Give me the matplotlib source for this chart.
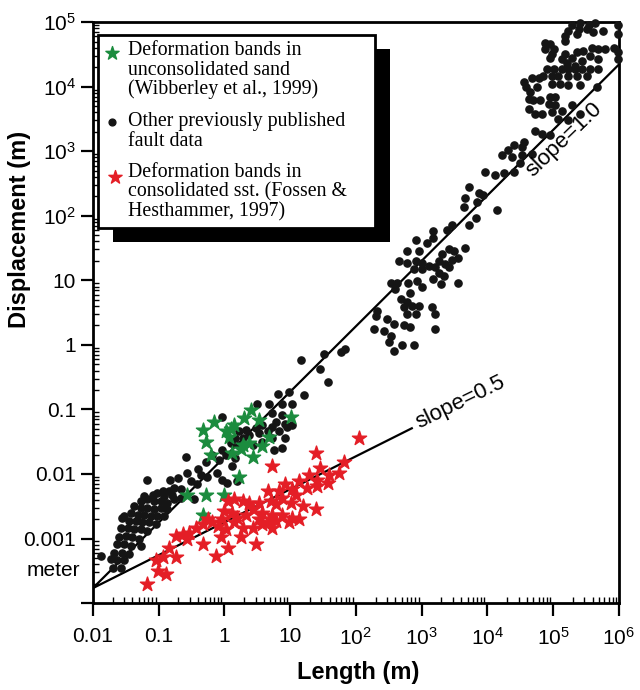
import numpy as np
import matplotlib.pyplot as plt
from matplotlib.patches import Rectangle
from matplotlib.ticker import LogLocator, NullFormatter, FixedLocator

plt.rcParams['font.family'] = 'Liberation Sans'
plt.rcParams['mathtext.fontset'] = 'custom'
plt.rcParams['mathtext.rm'] = 'Liberation Sans'

# (log10 length, log10 displacement)
other_faults_log = [
    (-0.58, -1.73), (-1.17, -2.10), (-0.82, -2.09), (-0.70, -2.06), (-0.56, -1.98), (-0.40, -1.93),
    (-0.36, -2.02), (-0.26, -2.05), (-0.11, -1.98), (-0.03, -2.09), (0.04, -2.14), (0.20, -2.11),
    (-0.51, -2.11), (-0.41, -2.15), (-0.84, -2.26), (-0.77, -2.22), (-0.66, -2.23), (-0.94, -2.27),
    (-1.02, -2.29), (-1.09, -2.32), (-1.22, -2.34), (-0.92, -2.34), (-0.79, -2.32), (-1.27, -2.42),
    (-1.17, -2.39), (-1.07, -2.42), (-0.97, -2.42), (-0.87, -2.45), (-0.77, -2.39), (-0.66, -2.37),
    (-0.46, -2.39), (-1.37, -2.50), (-1.27, -2.52), (-1.17, -2.52), (-1.07, -2.55), (-0.97, -2.52),
    (-0.87, -2.55), (-1.42, -2.60), (-1.52, -2.65), (-1.32, -2.63), (-1.22, -2.63), (-1.12, -2.65),
    (-1.02, -2.65), (-0.92, -2.65), (-1.55, -2.68), (-1.45, -2.73), (-1.35, -2.73), (-1.25, -2.75),
    (-1.15, -2.75), (-1.04, -2.78), (-1.57, -2.83), (-1.47, -2.83), (-1.37, -2.86), (-1.27, -2.86),
    (-1.17, -2.88), (-1.60, -2.98), (-1.50, -2.96), (-1.40, -2.98), (-1.30, -3.01), (-1.63, -3.09),
    (-1.52, -3.09), (-1.42, -3.11), (-1.27, -3.11), (-1.68, -3.22), (-1.55, -3.22), (-1.45, -3.24),
    (-1.88, -3.27), (-1.73, -3.32), (-1.63, -3.34), (-1.52, -3.34), (-1.70, -3.45), (-1.57, -3.45),
    # around 1-10 m
    (0.81, -0.76), (0.98, -0.73), (1.21, -0.78), (0.50, -0.91), (0.68, -0.91), (0.88, -0.91),
    (1.03, -0.91), (-0.03, -1.11), (0.73, -1.06), (0.88, -1.09), (0.78, -1.19), (0.93, -1.22),
    (0.73, -1.27), (0.58, -1.24), (0.48, -1.29), (0.33, -1.32), (0.22, -1.34), (0.17, -1.45),
    (0.28, -1.45), (0.38, -1.39), (0.53, -1.37), (0.66, -1.34), (0.83, -1.34), (0.96, -1.27),
    (1.03, -1.24), (0.10, -1.52), (0.22, -1.55), (0.43, -1.55), (0.58, -1.50), (0.76, -1.63),
    (0.88, -1.60), (0.73, -1.45), (0.93, -1.45), (-0.03, -1.63), (-0.18, -1.70), (0.02, -1.70),
    (0.17, -1.75), (-0.08, -1.78), (-0.28, -1.81), (0.12, -1.88),
    (1.16, -0.24), (1.52, -0.14), (1.77, -0.11), (1.84, -0.06), (1.46, -0.37), (1.57, -0.57),
    # 100 m - 10 km
    (3.72, 2.45), (3.87, 2.35), (3.94, 2.32), (3.66, 2.27), (3.84, 2.22), (3.64, 2.14),
    (4.15, 2.09), (3.82, 1.96), (3.72, 1.86), (3.46, 1.86), (3.39, 1.78), (3.18, 1.76),
    (2.91, 1.63), (3.08, 1.58), (3.18, 1.66), (2.78, 1.45), (2.96, 1.45), (2.65, 1.30),
    (2.78, 1.27), (2.91, 1.30), (3.01, 1.27), (3.11, 1.22), (2.88, 1.17), (3.01, 1.17),
    (3.41, 1.48), (3.49, 1.45), (3.66, 1.50), (3.31, 1.40), (3.56, 1.35), (3.46, 1.32),
    (3.26, 1.30), (3.36, 1.25), (3.21, 1.20), (3.41, 1.20), (3.26, 1.12), (3.34, 1.07),
    (3.18, 1.02), (3.29, 0.94), (3.56, 0.96), (2.53, 0.96), (2.63, 0.96), (2.80, 0.96),
    (2.93, 0.99), (2.60, 0.86), (2.83, 0.81), (3.01, 0.89), (2.68, 0.71), (2.78, 0.66),
    (2.73, 0.58), (2.86, 0.60), (2.96, 0.60), (2.32, 0.53), (2.30, 0.45), (2.48, 0.40),
    (2.58, 0.32), (2.73, 0.30), (3.16, 0.58), (3.21, 0.48), (2.78, 0.48), (2.91, 0.48),
    (2.27, 0.25), (2.43, 0.22), (2.53, 0.14), (2.83, 0.27), (3.21, 0.25), (2.50, 0.04),
    (2.70, -0.01), (2.88, -0.01), (2.58, -0.09),
    # 10 km - 1000 km
    (5.28, 4.96), (5.41, 4.99), (5.54, 4.96), (5.64, 4.99), (5.51, 4.89), (5.39, 4.89),
    (5.23, 4.86), (5.18, 4.78), (5.36, 4.81), (5.61, 4.84), (5.76, 4.86), (5.99, 4.96),
    (5.99, 4.81), (5.92, 4.60), (5.99, 4.53), (5.99, 4.43), (4.88, 4.68), (4.96, 4.66),
    (5.18, 4.71), (4.88, 4.58), (5.01, 4.58), (4.98, 4.50), (4.96, 4.45), (5.18, 4.50),
    (5.28, 4.45), (5.36, 4.53), (5.46, 4.55), (5.59, 4.60), (5.69, 4.58), (5.79, 4.58),
    (5.56, 4.48), (5.69, 4.43), (5.44, 4.40), (5.34, 4.32), (5.21, 4.37), (5.13, 4.43),
    (4.91, 4.27), (5.01, 4.27), (5.13, 4.27), (5.23, 4.27), (5.34, 4.27), (5.44, 4.27),
    (5.56, 4.27), (5.69, 4.27), (4.68, 4.14), (4.78, 4.14), (4.85, 4.17), (4.98, 4.17),
    (5.08, 4.17), (5.23, 4.17), (5.36, 4.17), (5.51, 4.17), (4.55, 4.07), (4.58, 3.99),
    (4.65, 3.91), (4.75, 3.99), (4.98, 4.04), (5.11, 4.04), (5.23, 4.02), (5.41, 4.02),
    (5.66, 3.99), (4.63, 3.81), (4.70, 3.80), (4.80, 3.80), (4.96, 3.84), (5.03, 3.84),
    (4.93, 3.73), (5.03, 3.71), (4.63, 3.66), (4.73, 3.58), (4.83, 3.58), (4.98, 3.60),
    (5.13, 3.63), (5.28, 3.71), (5.41, 3.58), (5.08, 3.50), (5.23, 3.48), (4.73, 3.32),
    (4.83, 3.27), (4.96, 3.25), (4.55, 3.14), (4.53, 3.07), (4.40, 3.09), (4.32, 3.02),
    (4.22, 2.94), (4.37, 2.91), (4.53, 2.94), (4.68, 2.96), (4.50, 2.81), (3.97, 2.68),
    (4.12, 2.63), (4.25, 2.66), (4.40, 2.68),
]

wibberley_log = [
    (-0.33, -1.32), (-0.15, -1.19), (-0.28, -1.50), (-0.20, -1.70), (0.02, -1.34), (0.07, -1.42),
    (0.15, -1.24), (0.30, -1.14), (0.40, -1.01), (0.53, -1.16), (0.28, -1.55), (0.38, -1.52),
    (0.68, -1.42), (0.58, -1.57), (0.12, -1.68), (0.43, -1.73), (1.01, -1.11), (0.23, -2.04),
    (-0.56, -2.32), (-0.28, -2.32), (0.00, -2.32), (-0.33, -2.63), (0.10, -1.30), (0.25, -1.62),
]

fossen_log = [
    (1.39, -1.68), (0.73, -1.88), (1.82, -1.81), (1.46, -1.91), (1.29, -2.01), (1.59, -2.01),
    (1.74, -1.98), (1.41, -2.09), (1.57, -2.14), (1.14, -2.11), (1.26, -2.22), (0.93, -2.16),
    (1.03, -2.24), (0.83, -2.27), (0.66, -2.27), (1.41, -2.19), (0.88, -2.37), (1.09, -2.32),
    (1.39, -2.55), (1.19, -2.50), (1.01, -2.45), (0.78, -2.47), (0.71, -2.42), (0.53, -2.45),
    (0.38, -2.45), (0.28, -2.42), (0.15, -2.39), (0.05, -2.42), (0.43, -2.55), (0.58, -2.60),
    (0.73, -2.63), (0.88, -2.63), (1.03, -2.68), (1.14, -2.70), (0.98, -2.75), (0.78, -2.73),
    (0.66, -2.75), (0.53, -2.70), (0.33, -2.63), (0.20, -2.68), (0.12, -2.60), (0.00, -2.57),
    (-0.03, -2.70), (0.15, -2.75), (0.28, -2.83), (0.43, -2.83), (0.58, -2.78), (0.73, -2.83),
    (0.02, -2.86), (-0.10, -2.81), (-0.18, -2.75), (-0.25, -2.70), (-0.33, -2.78), (-0.43, -2.83),
    (-0.53, -2.91), (-0.63, -2.93), (-0.73, -2.96), (-0.56, -3.01), (-0.33, -3.09), (-0.05, -2.98),
    (0.25, -2.98), (0.48, -3.09), (0.05, -3.14), (-0.13, -3.27), (-0.84, -3.14), (-0.94, -3.29),
    (-1.04, -3.34), (-0.73, -3.29), (-1.01, -3.50), (-0.89, -3.55), (-1.17, -3.70), (2.05, -1.45),
]

slope1_len = [0.01, 1e6]
slope1_disp = [1.7e-4, 2.2e4]
slope05_len = [0.01, 710]
slope05_disp = [1.7e-4, 0.051]

x_ticks = [0.01, 0.1, 1, 10, 1e2, 1e3, 1e4, 1e5, 1e6]
x_labels = ['0.01', '0.1', '1', '10', r'$\mathregular{10^2}$', r'$\mathregular{10^3}$',
            r'$\mathregular{10^4}$', r'$\mathregular{10^5}$', r'$\mathregular{10^6}$']
y_ticks = [1e-4, 1e-3, 0.01, 0.1, 1, 10, 1e2, 1e3, 1e4, 1e5]
y_labels = ['', '0.001', '0.01', '0.1', '1', '10', r'$\mathregular{10^2}$', r'$\mathregular{10^3}$',
            r'$\mathregular{10^4}$', r'$\mathregular{10^5}$']

faults = 10 ** np.array(other_faults_log)
wib = 10 ** np.array(wibberley_log)
fos = 10 ** np.array(fossen_log)

fig = plt.figure(figsize=(6.4, 6.9), dpi=100)
ax = fig.add_axes([0.145, 0.126, 0.822, 0.842])
ax.set_xscale('log')
ax.set_yscale('log')
ax.set_xlim(0.01, 1e6)
ax.set_ylim(1e-4, 1e5)

ax.plot(slope1_len, slope1_disp, color='black', lw=1.6, zorder=2)
ax.plot(slope05_len, slope05_disp, color='black', lw=1.6, zorder=2)

ax.scatter(faults[:, 0], faults[:, 1], s=27, color='#151515', zorder=3, clip_on=False)
ax.scatter(wib[:, 0], wib[:, 1], s=115, marker='*', color='#1b8c3e', zorder=4)
ax.scatter(fos[:, 0], fos[:, 1], s=115, marker='*', color='#e41e26', zorder=4)

ax.text(4.9e4, 390, 'slope=1.0', rotation=44, rotation_mode='anchor',
        ha='left', va='baseline', fontsize=16)
ax.text(930, 0.050, 'slope=0.5', rotation=26, rotation_mode='anchor',
        ha='left', va='baseline', fontsize=16)

# axis ticks
ax.xaxis.set_major_locator(FixedLocator(x_ticks))
ax.set_xticklabels(x_labels)
ax.yaxis.set_major_locator(FixedLocator(y_ticks))
ax.set_yticklabels(y_labels)
for a in (ax.xaxis, ax.yaxis):
    a.set_minor_locator(LogLocator(base=10, subs=range(2, 10), numticks=30))
    a.set_minor_formatter(NullFormatter())
ax.tick_params(which='major', direction='out', length=9, width=1.6, labelsize=15, pad=3)
ax.tick_params(which='minor', direction='in', length=4, width=1.0)
ax.tick_params(axis='x', which='major', pad=8)
for sp in ax.spines.values():
    sp.set_linewidth(2)

ax.text(-0.025, 10 ** -3.5, 'meter', transform=ax.get_yaxis_transform(),
        ha='right', va='center', fontsize=15)

fig.text(0.031, 0.668, 'Displacement (m)', rotation=90, ha='center', va='center',
         fontsize=17, fontweight='bold')
fig.text(0.559, 0.025, 'Length (m)', ha='center', va='center', fontsize=17, fontweight='bold')

# legend box with heavy drop shadow
ax.add_patch(Rectangle((0.038, 0.6213), 0.5266, 0.3322, fc='black', ec='none',
                       transform=ax.transAxes, zorder=5))
ax.add_patch(Rectangle((0.0095, 0.6454), 0.5265, 0.3322, fc='white', ec='black', lw=2,
                       transform=ax.transAxes, zorder=6))
ax.scatter([0.0361], [0.9466], s=100, marker='*', color='#1b8c3e', transform=ax.transAxes, zorder=7)
ax.scatter([0.0361], [0.8279], s=24, color='#151515', transform=ax.transAxes, zorder=7)
ax.scatter([0.0418], [0.7332], s=100, marker='*', color='#e41e26', transform=ax.transAxes, zorder=7)

legend_lines = [
    ('Deformation bands in', 0.9432), ('unconsolidated sand', 0.9088), ('(Wibberley et al., 1999)', 0.8761),
    ('Other previously published', 0.8210), ('fault data', 0.7866),
    ('Deformation bands in', 0.7337), ('consolidated sst. (Fossen &', 0.6993), ('Hesthammer, 1997)', 0.6649),
]
for txt, yy in legend_lines:
    ax.text(0.0665, yy, txt, transform=ax.transAxes, ha='left', va='baseline',
            fontsize=14.3, family='Liberation Serif', zorder=7)

fig.savefig('out.png', dpi=100)
